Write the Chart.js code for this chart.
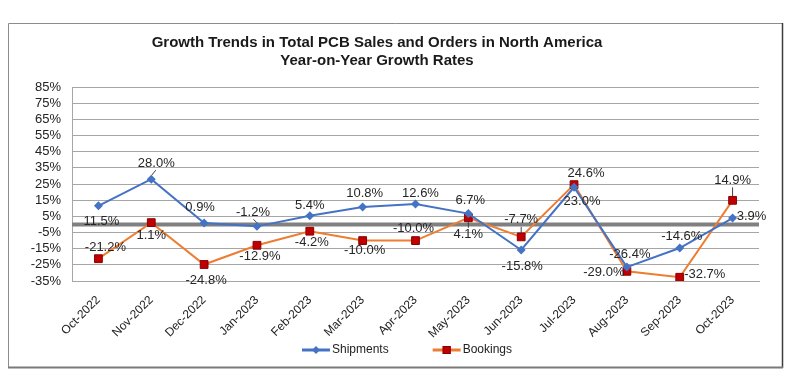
<!DOCTYPE html>
<html>
<head>
<meta charset="utf-8">
<title>PCB Sales and Orders Growth</title>
<script src="https://cdn.jsdelivr.net/npm/chart.js@4.4.0/dist/chart.umd.min.js"></script>
<style>
    html, body { margin: 0; padding: 0; background: #fff; }
    #wrap { width: 800px; height: 392px; }
</style>
</head>
<body>
<div id="wrap"><canvas id="pcbChart" width="800" height="392"></canvas></div>
<script>
// Chart data
const months = ['Oct-2022', 'Nov-2022', 'Dec-2022', 'Jan-2023', 'Feb-2023', 'Mar-2023', 'Apr-2023',
    'May-2023', 'Jun-2023', 'Jul-2023', 'Aug-2023', 'Sep-2023', 'Oct-2023'];
const shipments = [11.5, 28.0, 0.9, -1.2, 5.4, 10.8, 12.6, 6.7, -15.8, 23.0, -26.4, -14.6, 3.9];
const bookings = [-21.2, 1.1, -24.8, -12.9, -4.2, -10.0, -10.0, 4.1, -7.7, 24.6, -29.0, -32.7, 14.9];
const yTicks = [-35, -25, -15, -5, 5, 15, 25, 35, 45, 55, 65, 75, 85];
const titleLines = ['Growth Trends in Total PCB Sales and Orders in North America', 'Year-on-Year Growth Rates'];

// Where each data label sits relative to its point (px), Excel-style manual placement
const shipLabelOffsets = [[3, 16], [5, -16], [-4, -16], [-4, -14], [0, -10], [2, -14], [5, -11],
    [2, -13], [1, 16], [8, 14], [3, -13], [2, -12], [19, -2]];
const bookLabelOffsets = [[7, -11], [0, 13], [2, 16], [3, 11], [2, 11], [2, 10], [-2, -12],
    [0, 17], [0, -17], [12, -11], [-23, 1], [25, -3], [0, -20]];
const shipLeaders = [1, 3];
const bookLeaders = [7, 8, 12];

const FONT = "'Liberation Sans', Arial, sans-serif";
const BLUE = '#4472C4';
const ORANGE = '#ED7D31';
const RED = '#C00000';

// Legend swatch: short line with the series marker in the middle
function legendSwatch(g, x, y, lineColor, marker) {
    g.strokeStyle = lineColor;
    g.lineWidth = 3;
    g.beginPath();
    g.moveTo(x, y);
    g.lineTo(x + 28, y);
    g.stroke();
    if (marker === 'diamond') {
        g.fillStyle = BLUE;
        g.beginPath();
        g.moveTo(x + 14, y - 4);
        g.lineTo(x + 18, y);
        g.lineTo(x + 14, y + 4);
        g.lineTo(x + 10, y);
        g.closePath();
        g.fill();
    } else {
        g.fillStyle = RED;
        g.strokeStyle = '#8B0000';
        g.lineWidth = 1;
        g.fillRect(x + 10, y - 4, 8, 8);
        g.strokeRect(x + 10.5, y - 3.5, 7, 7);
    }
}

const frameAndTitle = {
    id: 'frameAndTitle',
    beforeDraw(chart) {
        const ctx = chart.ctx;
        ctx.save();
        ctx.fillStyle = '#fff';
        ctx.fillRect(0, 0, chart.width, chart.height);
        // outer frame
        ctx.lineWidth = 1;
        ctx.strokeStyle = '#8c8c8c';
        ctx.beginPath();
        ctx.moveTo(8.5, 367);
        ctx.lineTo(8.5, 23.5);
        ctx.lineTo(782, 23.5);
        ctx.stroke();
        ctx.strokeStyle = '#3c3c3c';
        ctx.lineWidth = 1.5;
        ctx.beginPath();
        ctx.moveTo(782.5, 23);
        ctx.lineTo(782.5, 368);
        ctx.stroke();
        ctx.strokeStyle = '#7a7a7a';
        ctx.lineWidth = 2;
        ctx.beginPath();
        ctx.moveTo(8, 367.5);
        ctx.lineTo(783, 367.5);
        ctx.stroke();
        // title
        ctx.fillStyle = '#1a1a1a';
        ctx.font = 'bold 15px ' + FONT;
        ctx.textAlign = 'center';
        ctx.textBaseline = 'middle';
        ctx.fillText(titleLines[0], 377, 43);
        ctx.fillText(titleLines[1], 377, 61);
        ctx.restore();
    },
    beforeDatasetsDraw(chart) {
        // heavy zero line under the series
        const ctx = chart.ctx;
        const y = chart.scales.y.getPixelForValue(0);
        ctx.save();
        ctx.strokeStyle = '#808080';
        ctx.lineWidth = 4;
        ctx.beginPath();
        ctx.moveTo(chart.chartArea.left, y);
        ctx.lineTo(chart.chartArea.right, y);
        ctx.stroke();
        ctx.restore();
    },
    afterDraw(chart) {
        // legend: line + marker swatch, then series name
        const ctx = chart.ctx;
        ctx.save();
        ctx.font = '12px ' + FONT;
        ctx.textBaseline = 'middle';
        ctx.textAlign = 'left';
        const items = chart.data.datasets.map((ds, i) => ({
            text: ds.label, color: ds.borderColor, marker: i === 0 ? 'diamond' : 'square',
            w: 30 + ctx.measureText(ds.label).width
        }));
        const gap = 44;
        const total = items.reduce((s, it) => s + it.w, 0) + gap * (items.length - 1);
        let x = 407 - total / 2;
        const y = 350;
        items.forEach(it => {
            legendSwatch(ctx, x, y, it.color, it.marker);
            ctx.fillStyle = '#222';
            ctx.fillText(it.text, x + 30, y);
            x += it.w + gap;
        });
        ctx.restore();
    }
};

const pointLabels = {
    id: 'pointLabels',
    afterDatasetsDraw(chart) {
        const ctx = chart.ctx;
        const sets = [
            { values: shipments, offsets: shipLabelOffsets, leaders: shipLeaders },
            { values: bookings, offsets: bookLabelOffsets, leaders: bookLeaders }
        ];
        ctx.save();
        ctx.font = '13px ' + FONT;
        ctx.textAlign = 'center';
        ctx.textBaseline = 'middle';
        sets.forEach((set, di) => {
            const meta = chart.getDatasetMeta(di);
            meta.data.forEach((pt, i) => {
                const [dx, dy] = set.offsets[i];
                const lx = pt.x + dx;
                const ly = pt.y + dy;
                if (set.leaders.includes(i)) {
                    const s = Math.sign(dy);
                    ctx.strokeStyle = '#404040';
                    ctx.lineWidth = 1;
                    ctx.beginPath();
                    ctx.moveTo(lx - dx * 0.1, ly - s * 7);
                    ctx.lineTo(pt.x + dx * 0.1, pt.y + s * 4);
                    ctx.stroke();
                }
                ctx.fillStyle = '#262626';
                ctx.fillText(set.values[i].toFixed(1) + '%', lx, ly);
            });
        });
        ctx.restore();
    }
};

new Chart(document.getElementById('pcbChart'), {
    type: 'line',
    data: {
        labels: months,
        datasets: [{
            label: 'Shipments',
            data: shipments,
            borderColor: BLUE,
            backgroundColor: BLUE,
            borderWidth: 2,
            pointStyle: 'rectRot',
            pointRadius: 4.5,
            pointBorderWidth: 0,
            pointBackgroundColor: BLUE,
            tension: 0
        }, {
            label: 'Bookings',
            data: bookings,
            borderColor: ORANGE,
            backgroundColor: RED,
            borderWidth: 2,
            pointStyle: 'rect',
            pointRadius: 5.5,
            pointBorderWidth: 1,
            pointBorderColor: '#8B0000',
            pointBackgroundColor: RED,
            tension: 0
        }]
    },
    options: {
        responsive: false,
        animation: false,
        devicePixelRatio: 1,
        layout: {
            padding: { left: 8, right: 41, top: 87, bottom: 0 }
        },
        plugins: {
            title: { display: false },
            tooltip: { enabled: false },
            legend: { display: false }
        },
        scales: {
            x: {
                offset: true,
                grid: { display: false },
                border: { display: true, color: '#a6a6a6' },
                ticks: {
                    autoSkip: false,
                    minRotation: 45,
                    maxRotation: 45,
                    padding: 4,
                    color: '#222',
                    font: { family: FONT, size: 12 }
                },
                afterFit(scale) { scale.height = 111; }
            },
            y: {
                min: -35,
                max: 85,
                grid: { color: '#a6a6a6', drawTicks: false },
                border: { display: true, color: '#a6a6a6' },
                ticks: {
                    autoSkip: false,
                    padding: 11,
                    color: '#222',
                    font: { family: FONT, size: 13 },
                    callback: v => v + '%'
                },
                afterBuildTicks(scale) {
                    scale.ticks = yTicks.map(v => ({ value: v }));
                },
                afterFit(scale) { scale.width = 64; }
            }
        }
    },
    plugins: [frameAndTitle, pointLabels]
});
</script>
</body>
</html>
